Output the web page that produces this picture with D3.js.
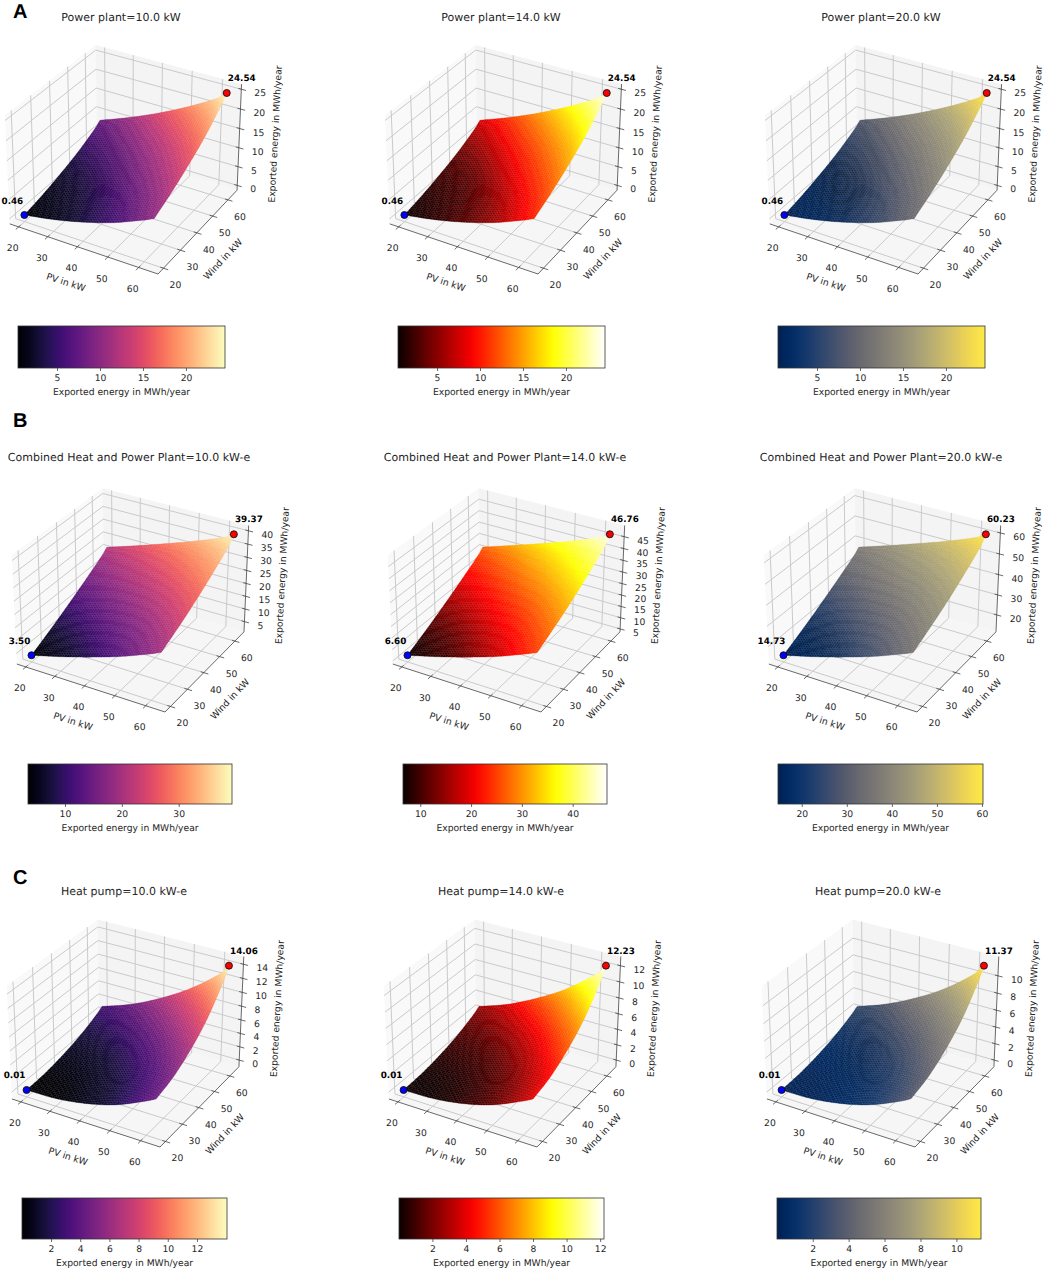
<!DOCTYPE html>
<html>
<head>
<meta charset="utf-8">
<style>
  body { margin: 0; background: #fff; }
  text { font-family: "DejaVu Sans", sans-serif; fill: #262626; text-rendering: geometricPrecision; }
</style>
<script src="https://cdnjs.cloudflare.com/ajax/libs/d3/7.8.5/d3.min.js"></script>
</head>
<body>
<div class="app"></div>
<script>
// grid of the surfaces, rows are wind, columns are PV
const pvNodes = [20, 30, 40, 50, 60, 63]
const windNodes = [20, 30, 40, 50, 60, 63]

const powerPlant = [
  [0.46, 1.8, 3.67, 6.08, 9.3, 10.4],
  [1.56, 3.19, 5.33, 7.97, 11.3, 12.7],
  [2.99, 4.95, 7.4, 10.32, 13.9, 15.45],
  [4.75, 7.11, 9.89, 13.13, 17, 18.7],
  [7.1, 9.9, 13.1, 16.7, 20.9, 22.9],
  [8.2, 11.1, 14.4, 18.2, 22.6, 24.54],
]
const chp10 = [
  [3.5, 6.54, 9.98, 13.81, 18.4, 20],
  [7.12, 10.21, 13.63, 17.4, 21.8, 23.4],
  [11.03, 14.2, 17.66, 21.41, 25.7, 27.3],
  [15.22, 18.52, 22.06, 25.84, 30.1, 31.7],
  [19.67, 23.15, 26.81, 30.65, 34.9, 36.6],
  [21.5, 25.1, 28.9, 32.9, 37.4, 39.37],
]
const chp14 = [
  [6.6, 10, 13.85, 18.14, 23.3, 25],
  [10.65, 14.11, 17.94, 22.16, 27.1, 28.9],
  [15.03, 18.58, 22.45, 26.65, 31.5, 33.2],
  [19.72, 23.42, 27.38, 31.61, 36.4, 38.1],
  [24.7, 28.6, 32.7, 37, 41.8, 43.6],
  [26.8, 30.9, 35.1, 39.5, 44.6, 46.76],
]
const chp20 = [
  [14.73, 18.59, 22.95, 27.81, 33.6, 35.6],
  [19.32, 23.24, 27.58, 32.36, 38, 40],
  [24.28, 28.29, 32.69, 37.44, 42.9, 44.8],
  [29.6, 33.78, 38.27, 43.06, 48.4, 50.4],
  [35.24, 39.65, 44.29, 49.16, 54.5, 56.7],
  [37.6, 42.2, 47, 52, 57.7, 60.23],
]
const heatPump10 = [
  [0.01, 0.13, 0.78, 1.96, 3.9, 4.6],
  [0.18, 0.47, 1.25, 2.59, 4.6, 5.4],
  [0.68, 1.17, 2.21, 3.78, 6, 6.95],
  [1.44, 2.29, 3.66, 5.55, 8.2, 9.2],
  [2.6, 3.9, 5.7, 8.05, 11.1, 12.6],
  [3.1, 4.6, 6.65, 9.2, 12.5, 14.06],
]
const heatPump14 = [
  [0.01, 0.12, 0.67, 1.7, 3.4, 4],
  [0.16, 0.4, 1.08, 2.25, 4, 4.7],
  [0.58, 1.01, 1.92, 3.28, 5.25, 6.05],
  [1.25, 1.98, 3.18, 4.82, 7.1, 8],
  [2.25, 3.4, 5, 7, 9.7, 10.95],
  [2.7, 4, 5.8, 8, 10.9, 12.23],
]
const heatPump20 = [
  [0.01, 0.11, 0.63, 1.59, 3.15, 3.75],
  [0.15, 0.38, 1.01, 2.1, 3.75, 4.4],
  [0.55, 0.95, 1.79, 3.06, 4.9, 5.65],
  [1.17, 1.85, 2.96, 4.49, 6.6, 7.45],
  [2.1, 3.15, 4.65, 6.55, 9, 10.2],
  [2.5, 3.75, 5.4, 7.45, 10.15, 11.37],
]

const pvTicks = [20, 30, 40, 50, 60]
const windTicks = [20, 30, 40, 50, 60]
const rowLetters = ['A', 'B', 'C']
const zLabel = 'Exported energy in MWh/year'

const hot = d3.scaleLinear()
  .domain([0, 0.365, 0.746, 1])
  .range(['#0a0000', '#ff0000', '#ffff00', '#ffffff'])

const maps = [d3.interpolateMagma, t => hot(t), d3.interpolateCividis]

// layout per panel: fx/fy is the front corner of the box floor
// ring is the dark ripple on the mesh, measured from that corner
const rows = [
  { letter: [13, 18], titleY: 21, sy: 1550, hz: 0.40, barY: 326, barH: 42, barLabelY: 395, ring: [-78, -91, 50, 0.4] },
  { letter: [13, 427], titleY: 461, sy: 1480, hz: 0.42, barY: 764, barH: 40, barLabelY: 831, ring: [-102, -62, 42, 0.3] },
  { letter: [13, 884], titleY: 895, sy: 1480, hz: 0.435, barY: 1198, barH: 41, barLabelY: 1266, ring: [-50, -95, 46, 0.22] },
]
const panels = [
  { row: 0, col: 0, title: 'Power plant=10.0 kW', grid: powerPlant, zTicks: [0, 5, 10, 15, 20, 25], barTicks: [5, 10, 15, 20], fx: 158, fy: 274, tx: 121, bar: [18, 225] },
  { row: 0, col: 1, title: 'Power plant=14.0 kW', grid: powerPlant, zTicks: [0, 5, 10, 15, 20, 25], barTicks: [5, 10, 15, 20], fx: 538, fy: 274, tx: 501, bar: [398, 605] },
  { row: 0, col: 2, title: 'Power plant=20.0 kW', grid: powerPlant, zTicks: [0, 5, 10, 15, 20, 25], barTicks: [5, 10, 15, 20], fx: 918, fy: 274, tx: 881, bar: [778, 985] },
  { row: 1, col: 0, title: 'Combined Heat and Power Plant=10.0 kW-e', grid: chp10, zTicks: [5, 10, 15, 20, 25, 30, 35, 40], barTicks: [10, 20, 30], fx: 165, fy: 712, tx: 129, bar: [28, 232] },
  { row: 1, col: 1, title: 'Combined Heat and Power Plant=14.0 kW-e', grid: chp14, zTicks: [5, 10, 15, 20, 25, 30, 35, 40, 45], barTicks: [10, 20, 30, 40], fx: 541, fy: 712, tx: 505, bar: [403, 607] },
  { row: 1, col: 2, title: 'Combined Heat and Power Plant=20.0 kW-e', grid: chp20, zTicks: [20, 30, 40, 50, 60], barTicks: [20, 30, 40, 50, 60], fx: 917, fy: 712, tx: 881, bar: [778, 983] },
  { row: 2, col: 0, title: 'Heat pump=10.0 kW-e', grid: heatPump10, zTicks: [0, 2, 4, 6, 8, 10, 12, 14], barTicks: [2, 4, 6, 8, 10, 12], fx: 160, fy: 1147, tx: 124, bar: [22, 227] },
  { row: 2, col: 1, title: 'Heat pump=14.0 kW-e', grid: heatPump14, zTicks: [0, 2, 4, 6, 8, 10, 12], barTicks: [2, 4, 6, 8, 10, 12], fx: 537, fy: 1147, tx: 501, bar: [399, 604] },
  { row: 2, col: 2, title: 'Heat pump=20.0 kW-e', grid: heatPump20, zTicks: [0, 2, 4, 6, 8, 10], barTicks: [2, 4, 6, 8, 10], fx: 915, fy: 1147, tx: 878, bar: [777, 981] },
]

const svg = d3.select('.app').append('svg')
  .attr('width', 1045).attr('height', 1270)
  .style('display', 'block')

const defs = svg.append('defs')

// limits like matplotlib puts them round the data
const limits = (lo, hi) => {
  const m = (hi - lo) * 0.05
  const d = (hi - lo + 2 * m) / 48
  return [lo - m - d, hi + m + d]
}

// rounds the mesh off between the grid nodes so the edges show no kinks
const smooth = (nodes, vals) => {
  const n = nodes.length
  const slope = nodes.map((_, i) => {
    const a = Math.max(i - 1, 0)
    const b = Math.min(i + 1, n - 1)
    return (vals[b] - vals[a]) / (nodes[b] - nodes[a])
  })
  return x => {
    const i = Math.min(Math.max(d3.bisectRight(nodes, x) - 1, 0), n - 2)
    const h = nodes[i + 1] - nodes[i]
    const t = (x - nodes[i]) / h
    const t2 = t * t
    const t3 = t2 * t
    return (2 * t3 - 3 * t2 + 1) * vals[i] + (t3 - 2 * t2 + t) * h * slope[i] +
      (-2 * t3 + 3 * t2) * vals[i + 1] + (t3 - t2) * h * slope[i + 1]
  }
}

const drawPanel = (p, idx) => {
  const row = rows[p.row]
  const cmap = maps[p.col]
  const root = svg.append('g')

  const hx = 0.5715
  const hz = row.hz
  const xLim = limits(20, 63)
  const yLim = limits(20, 63)
  const zExt = d3.extent(p.grid.flat())
  const zLim = limits(zExt[0], zExt[1])
  const bx = d3.scaleLinear().domain(xLim).range([-hx, hx])
  const by = d3.scaleLinear().domain(yLim).range([-hx, hx])
  const bz = d3.scaleLinear().domain(zLim).range([-hz, hz])

  // elev 30, azim -60, dist 10
  const view = (a, b, c) => {
    const w = 10 - (0.433 * a - 0.75 * b + 0.5 * c)
    return [(0.866 * a + 0.5 * b) / w, (-0.25 * a + 0.433 * b + 0.866 * c) / w]
  }
  const front = view(hx, -hx, -hz)
  const sx = d3.scaleLinear().domain([front[0], front[0] + 1]).range([p.fx, p.fx + 1485])
  const sy = d3.scaleLinear().domain([front[1], front[1] + 1]).range([p.fy, p.fy - row.sy])
  const pt = (x, y, z) => {
    const v = view(bx(x), by(y), bz(z))
    return [sx(v[0]), sy(v[1])]
  }
  const line = d3.line()

  const [x0, x1] = xLim
  const [y0, y1] = yLim
  const [z0, z1] = zLim

  // panes
  const pane = (pts, fill) => root.append('path')
    .attr('d', line(pts) + 'Z').attr('fill', fill).attr('stroke', 'none')
  pane([pt(x0, y0, z0), pt(x0, y1, z0), pt(x0, y1, z1), pt(x0, y0, z1)], '#f9f9f9')
  pane([pt(x0, y1, z0), pt(x1, y1, z0), pt(x1, y1, z1), pt(x0, y1, z1)], '#f4f4f4')
  pane([pt(x0, y0, z0), pt(x1, y0, z0), pt(x1, y1, z0), pt(x0, y1, z0)], '#f6f6f6')

  const gridLine = pts => root.append('path')
    .attr('d', line(pts)).attr('fill', 'none')
    .attr('stroke', '#cacaca').attr('stroke-width', 1)
  pvTicks.forEach(v => gridLine([pt(v, y0, z0), pt(v, y1, z0), pt(v, y1, z1)]))
  windTicks.forEach(v => gridLine([pt(x1, v, z0), pt(x0, v, z0), pt(x0, v, z1)]))
  p.zTicks.forEach(v => gridLine([pt(x0, y0, v), pt(x0, y1, v), pt(x1, y1, v)]))

  // axes
  const axisLine = pts => root.append('path')
    .attr('d', line(pts)).attr('fill', 'none')
    .attr('stroke', '#444').attr('stroke-width', 0.8)
  axisLine([pt(x0, y0, z0), pt(x1, y0, z0), pt(x1, y1, z0), pt(x1, y1, z1)])

  const tickText = (xy, text, anchor) => root.append('text')
    .attr('x', xy[0]).attr('y', xy[1]).attr('font-size', 9.2)
    .attr('text-anchor', anchor).text(text)

  pvTicks.forEach(v => {
    axisLine([pt(v, y0 + 1, z0), pt(v, y0 - 1.5, z0)])
    const a = pt(v, y0, z0)
    tickText([a[0] - 6, a[1] + 24.5], v, 'middle')
  })
  windTicks.forEach(v => {
    axisLine([pt(x1 - 1, v, z0), pt(x1 + 1.5, v, z0)])
    const a = pt(x1, v, z0)
    tickText([a[0] + 12, a[1] + 20], v, 'middle')
  })
  p.zTicks.forEach(v => {
    axisLine([pt(x1 - 1, y1, v), pt(x1 + 1.5, y1, v)])
    const a = pt(x1, y1, v)
    tickText([a[0] + 13, a[1] + 7], v, 'start')
  })

  const axisTitle = (xy, angle, text) => root.append('text')
    .attr('transform', `translate(${xy[0]},${xy[1]}) rotate(${angle})`)
    .attr('font-size', 9.2).attr('text-anchor', 'middle').text(text)

  const xm = pt((x0 + x1) / 2, y0, z0)
  axisTitle([xm[0] - 17, xm[1] + 37], 18, 'PV in kW')
  const ym = pt(x1, (y0 + y1) / 2, z0)
  axisTitle([ym[0] + 26, ym[1] + 31], -47, 'Wind in kW')
  const zm = pt(x1, y1, (z0 + z1) / 2)
  axisTitle([zm[0] + 39, zm[1] - 4], -87, zLabel)

  // surface, each facet takes its height from the grid nodes
  const rowFns = p.grid.map(r => smooth(pvNodes, r))
  const meshX = d3.range(20, 63.001, 0.86)
  const meshY = d3.range(20, 63.001, 0.86)
  const mesh = meshY.map(y => meshX.map(x => {
    const v = smooth(windNodes, rowFns.map(f => f(x)))(y)
    return Math.max(zExt[0], Math.min(zExt[1], v))
  }))
  const color = d3.scaleLinear().domain(zExt).range([0, 1])
  const [rx, ry, rr, ra] = row.ring

  const cells = []
  for (let j = meshY.length - 2; j >= 0; j--) {
    for (let i = 0; i < meshX.length - 1; i++) {
      const z = [mesh[j][i], mesh[j][i + 1], mesh[j + 1][i + 1], mesh[j + 1][i]]
      const corners = [
        pt(meshX[i], meshY[j], z[0]),
        pt(meshX[i + 1], meshY[j], z[1]),
        pt(meshX[i + 1], meshY[j + 1], z[2]),
        pt(meshX[i], meshY[j + 1], z[3]),
      ]
      // the mesh darkens in rings, that is only texture and no value
      const dx = d3.mean(corners, c => c[0]) - (p.fx + rx)
      const dy = d3.mean(corners, c => c[1]) - (p.fy + ry)
      const r = Math.hypot(dx * 1.25, dy)
      const dark = ra * Math.exp(-(r * r) / (rr * rr)) * (0.78 + 0.22 * Math.cos(r * 2 * Math.PI / 10))
      cells.push({
        d: line(corners) + 'Z',
        c: d3.interpolateRgb(cmap(color(d3.mean(z))), '#000')(dark),
      })
    }
  }
  root.append('g').selectAll('path').data(cells).join('path')
    .attr('d', d => d.d)
    .attr('fill', d => d.c)
    .attr('stroke', d => d.c)
    .attr('stroke-width', 0.3)

  // min and max markers
  const lowPt = pt(20, 20, zExt[0])
  const highPt = pt(63, 63, zExt[1])
  root.append('circle').attr('cx', lowPt[0]).attr('cy', lowPt[1]).attr('r', 3.5)
    .attr('fill', '#0000ff').attr('stroke', '#111').attr('stroke-width', 0.9)
  root.append('circle').attr('cx', highPt[0]).attr('cy', highPt[1]).attr('r', 3.5)
    .attr('fill', '#ff0000').attr('stroke', '#111').attr('stroke-width', 0.9)
  root.append('text').attr('x', lowPt[0] - 12).attr('y', lowPt[1] - 11.5)
    .attr('font-size', 8.8).attr('font-weight', 'bold').attr('text-anchor', 'middle')
    .style('fill', '#000').text(zExt[0].toFixed(2))
  root.append('text').attr('x', highPt[0] + 15).attr('y', highPt[1] - 12)
    .attr('font-size', 8.8).attr('font-weight', 'bold').attr('text-anchor', 'middle')
    .style('fill', '#000').text(zExt[1].toFixed(2))

  // title
  root.append('text').attr('x', p.tx).attr('y', row.titleY)
    .attr('font-size', 11).attr('text-anchor', 'middle').text(p.title)

  // colour bar
  const id = 'bar' + idx
  const grad = defs.append('linearGradient').attr('id', id)
  d3.range(0, 1.0001, 0.05).forEach(t => {
    grad.append('stop').attr('offset', t).attr('stop-color', cmap(t))
  })
  const barScale = d3.scaleLinear().domain(zExt).range(p.bar)
  const barG = root.append('g').attr('transform', `translate(0,${row.barY + row.barH})`)
  root.append('rect')
    .attr('x', p.bar[0]).attr('y', row.barY)
    .attr('width', p.bar[1] - p.bar[0]).attr('height', row.barH)
    .attr('fill', `url(#${id})`).attr('stroke', '#333').attr('stroke-width', 0.8)
  barG.call(d3.axisBottom(barScale).tickValues(p.barTicks).tickFormat(d3.format('d')).tickSize(3).tickPadding(3))
  barG.select('.domain').remove()
  barG.selectAll('line').attr('stroke', '#444').attr('stroke-width', 0.8)
  barG.selectAll('text').attr('font-size', 9.2).attr('font-family', '"DejaVu Sans", sans-serif')
  root.append('text').attr('x', (p.bar[0] + p.bar[1]) / 2).attr('y', row.barLabelY)
    .attr('font-size', 9.2).attr('text-anchor', 'middle').text(zLabel)
}

panels.forEach(drawPanel)

rows.forEach((r, i) => {
  svg.append('text').attr('x', r.letter[0]).attr('y', r.letter[1])
    .attr('font-size', 20).attr('font-weight', 'bold')
    .style('font-family', '"Liberation Sans", sans-serif')
    .style('fill', '#000').text(rowLetters[i])
})
</script>
</body>
</html>
